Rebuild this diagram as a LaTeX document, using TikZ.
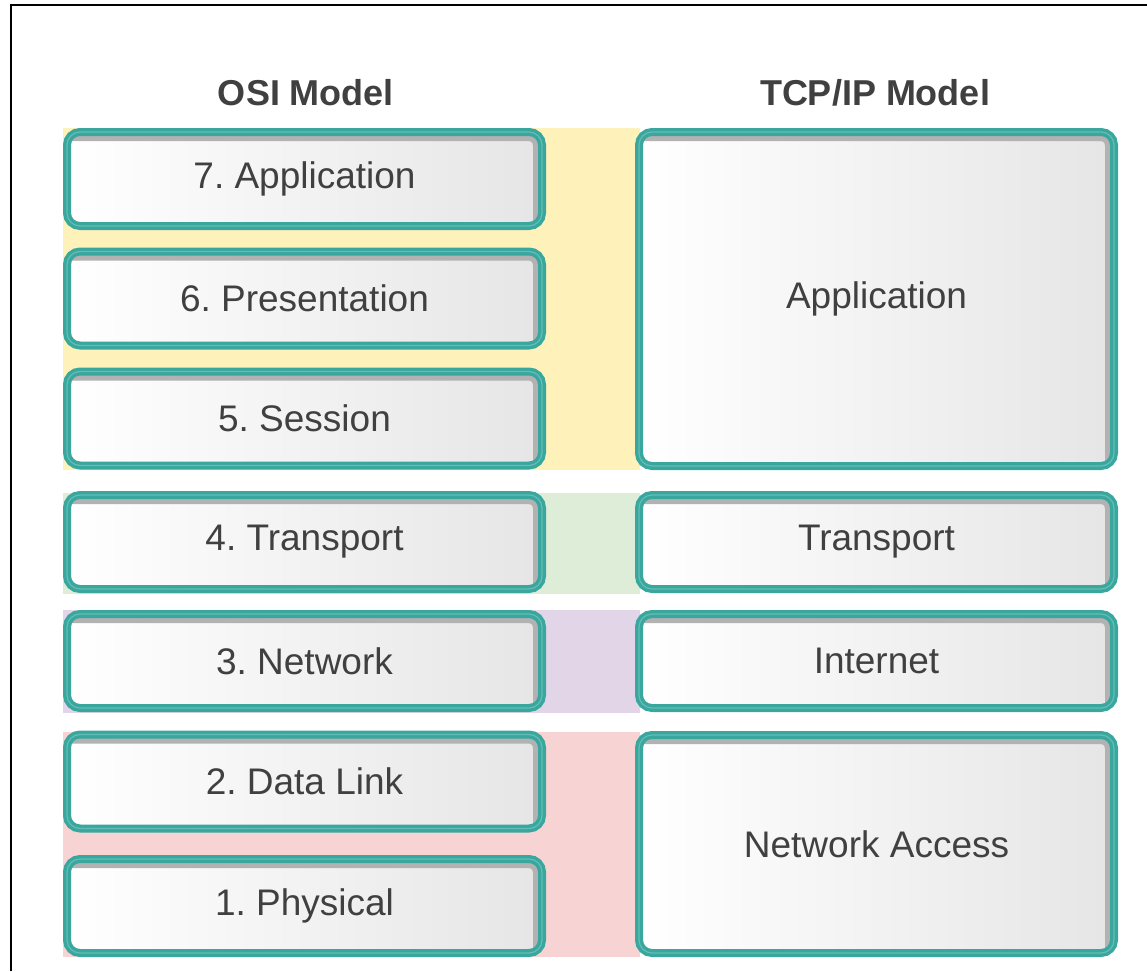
\documentclass[tikz,border=0pt]{standalone}
\usepackage{fontspec}
\setmainfont{Liberation Sans}
\frenchspacing

\definecolor{layerteal}{HTML}{3AA79F}
\definecolor{layerglint}{HTML}{62BEB6}
\definecolor{bandyellow}{HTML}{FEF1B9}
\definecolor{bandgreen}{HTML}{DDEDD8}
\definecolor{bandpurple}{HTML}{E2D5E8}
\definecolor{bandred}{HTML}{F8D3D3}
\definecolor{labelgray}{HTML}{404040}

\tikzset{
  layer/.style={rounded corners=13pt, draw=layerteal, line width=8pt,
    left color=white, right color=black!10,
    text=labelgray, font=\fontsize{37}{44}\selectfont,
    path picture={\draw[black!30, line width=18pt]
      (path picture bounding box.north west) -- (path picture bounding box.north east)
      -- (path picture bounding box.south east);},
    postaction={draw=layerglint, line width=1.2pt}},
  osilayer/.style={layer, minimum width=475pt, minimum height=94pt},
  title/.style={font=\bfseries\fontsize{36}{43}\selectfont, text=labelgray}
}

\begin{document}
\begin{tikzpicture}[x=1pt,y=-1pt]
\useasboundingbox (0,0) rectangle (1147,971);
\draw[line width=2pt] (11,971) -- (11,5) -- (1147,5);

% colour bands behind the layers
\fill[bandyellow] (63,128) rectangle (640,470);
\fill[bandgreen] (63,493) rectangle (640,594);
\fill[bandpurple] (63,610) rectangle (640,713);
\fill[bandred] (63,732) rectangle (640,957);

\node[title] (osititle) at (306,93) {OSI Model};
\node[title] (tcptitle) at (875,93) {TCP/IP Model};

\node[osilayer] (osi7) at (304.5,179) {7. Application};
\node[osilayer] (osi6) at (304.5,298.5) {6. Presentation};
\node[osilayer] (osi5) at (304.5,418.5) {5. Session};
\node[osilayer] (osi4) at (304.5,542) {4. Transport};
\node[osilayer] (osi3) at (304.5,661) {3. Network};
\node[osilayer] (osi2) at (304.5,781.5) {2. Data Link};
\node[osilayer] (osi1) at (304.5,906) {1. Physical};

\node[layer, minimum width=475pt, minimum height=334pt] (tcpapp) at (876.5,299) {Application};
\node[osilayer] (tcptrans) at (876.5,542) {Transport};
\node[osilayer] (tcpnet) at (876.5,661) {Internet};
\node[layer, minimum width=475pt, minimum height=218pt] (tcpacc) at (876.5,844) {Network Access};
\end{tikzpicture}
\end{document}
